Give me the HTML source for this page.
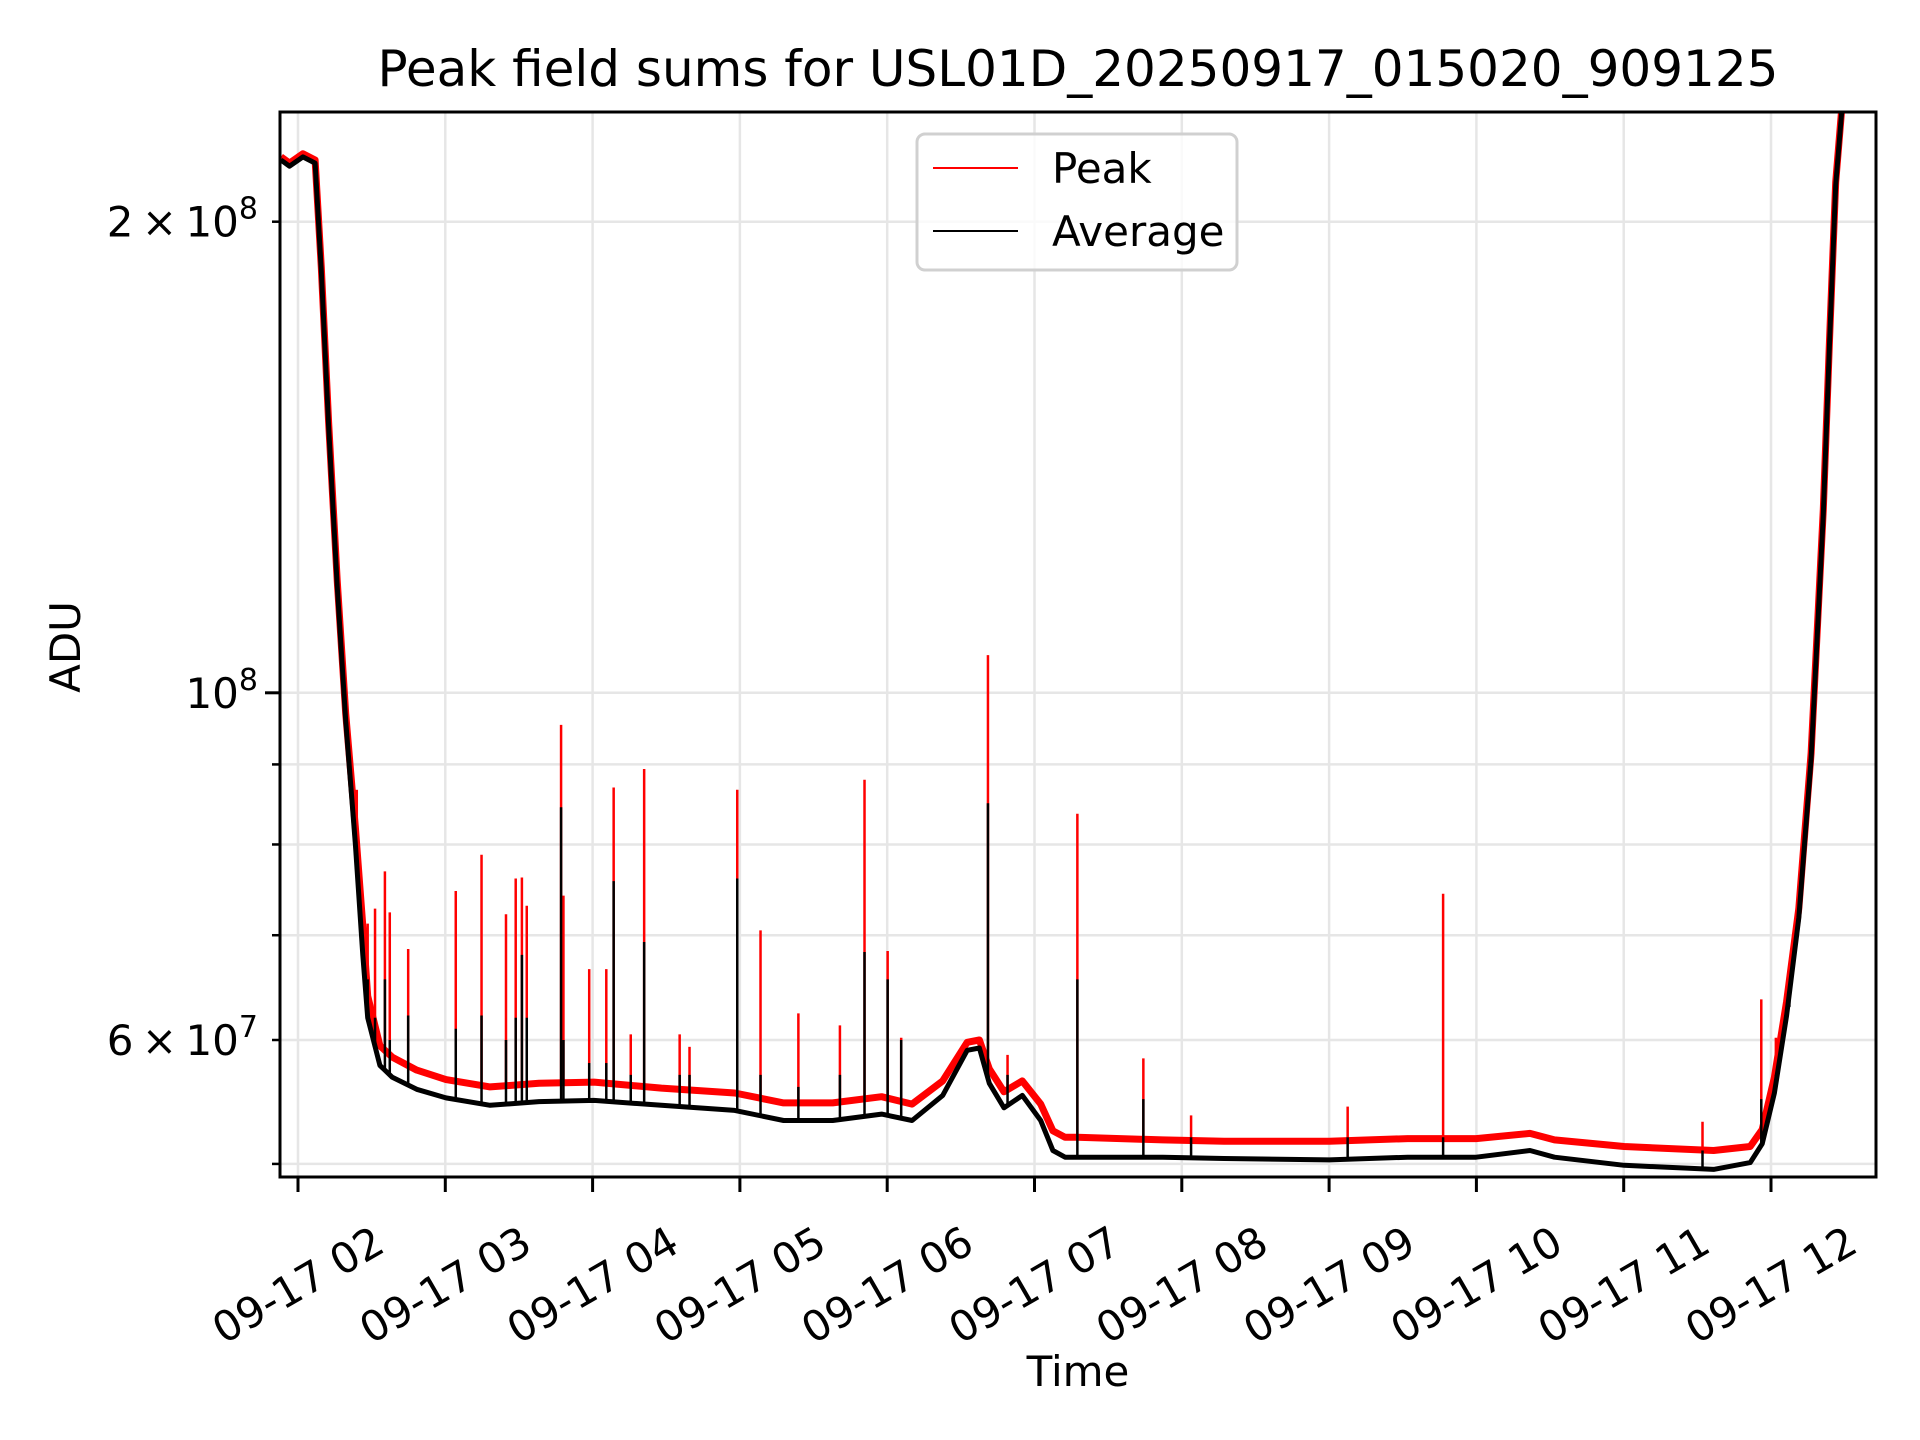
<!DOCTYPE html>
<html><head><meta charset="utf-8"><style>
html,body{margin:0;padding:0;background:#fff;}
svg{display:block;font-family:"DejaVu Sans","Liberation Sans",sans-serif;}
</style></head><body>
<svg id="chart" width="1920" height="1440" viewBox="0 0 1920 1440" xmlns="http://www.w3.org/2000/svg">
<defs><clipPath id="plotclip"><rect x="280" y="112" width="1596" height="1065"/></clipPath></defs>
<rect x="0" y="0" width="1920" height="1440" fill="#fff"/>
<g id="grid"></g>
<g id="series" clip-path="url(#plotclip)"></g>
<rect x="280" y="112" width="1596" height="1065" fill="none" stroke="#000" stroke-width="3"/>
<g id="axes"></g>
<text x="1078" y="86" font-size="50" text-anchor="middle">Peak field sums for USL01D_20250917_015020_909125</text>
<text x="1078" y="1386" font-size="42" text-anchor="middle">Time</text>
<text x="0" y="0" font-size="42" text-anchor="middle" transform="translate(80,647) rotate(-90)">ADU</text>
<g>
<rect x="917" y="134" width="320" height="136" rx="8" fill="#fff" fill-opacity="0.8" stroke="#d0d0d0" stroke-width="3"/>
<line x1="933" y1="168" x2="1018" y2="168" stroke="#ff0000" stroke-width="2"/>
<text x="1052" y="183" font-size="42">Peak</text>
<line x1="933" y1="231" x2="1018" y2="231" stroke="#000" stroke-width="2"/>
<text x="1052" y="246" font-size="42">Average</text>
</g>
</svg>
<script>
// times in hours (09-17), values in millions of ADU
const baseTimes = [1.884,1.942,2.033,2.116,2.158,2.208,2.266,2.324,2.390,2.440,2.473,2.556,2.640,2.806,3.005,3.304,3.636,4.010,4.467,4.965,5.297,5.630,5.962,6.169,6.377,6.543,6.626,6.693,6.793,6.917,7.042,7.125,7.208,7.291,7.872,8.287,9.002,9.533,9.998,10.364,10.530,11.003,11.610,11.859,11.940,12.023,12.106,12.189,12.272,12.355,12.397,12.439,12.480,12.55];
const avgValues = [219,217,220,218,186,148,117,96,80,68,62,57.8,56.8,55.8,55.1,54.5,54.8,54.9,54.5,54.1,53.3,53.3,53.8,53.3,55.3,59.1,59.3,56.3,54.3,55.3,53.3,51.0,50.5,50.5,50.5,50.4,50.3,50.5,50.5,51.0,50.5,49.9,49.6,50.1,51.5,55.5,62.2,71.8,90.7,130,167,211,235,250];
const peakValues = [220,218,221,219,187,149,118,97,82,71,64,59.5,58.5,57.4,56.6,56.0,56.3,56.4,55.9,55.5,54.7,54.7,55.2,54.6,56.5,59.8,60.0,57.5,55.6,56.5,54.6,52.5,52.0,52.0,51.8,51.7,51.7,51.9,51.9,52.3,51.8,51.3,51.0,51.3,52.6,56.8,63.5,72.8,91.5,131,168,212,236,251];
const spikeTimes = [2.399,2.473,2.523,2.590,2.623,2.748,3.071,3.246,3.412,3.478,3.520,3.553,3.786,3.802,3.977,4.093,4.143,4.259,4.350,4.591,4.658,4.982,5.140,5.397,5.679,5.846,6.003,6.095,6.684,6.817,7.291,7.739,8.063,9.126,9.774,11.535,11.934,12.033,12.125];
const spikePeak = [86.7,71.2,72.8,76.9,72.4,68.6,74.7,78.8,72.2,76.1,76.2,73.1,95.4,74.2,66.6,66.6,87.0,60.5,89.4,60.5,59.4,86.7,70.5,62.4,61.3,88.0,68.4,60.2,105.7,58.7,83.7,58.4,53.7,54.4,74.4,53.2,63.7,60.2,66.6];
const spikeAvg = [75.8,65.6,62,65.6,60,62.2,61.0,62.2,60,62,68.0,62,84.5,60,58,58,75.8,57,69.3,57,57,76.1,57,56,57,68.3,65.6,60,85.0,57,65.6,55,52,52,52,51,55,57,63];
const yMajorTicks = [1e8];
const yMinorTicks = [5e7,6e7,7e7,8e7,9e7,2e8];
const xTickHours = [2,3,4,5,6,7,8,9,10,11,12];
const xTickLabels = ["09-17 02","09-17 03","09-17 04","09-17 05","09-17 06","09-17 07","09-17 08","09-17 09","09-17 10","09-17 11","09-17 12"];

const NS="http://www.w3.org/2000/svg";
function xs(t){return 298+(t-2)*147.3;}
function ys(vM){return 1040-Math.log10(vM*1e6/6e7)*1565;}
function mk(tag,attrs,parent){const e=document.createElementNS(NS,tag);for(const k in attrs)e.setAttribute(k,attrs[k]);parent.appendChild(e);return e;}
function interp(t,arr){for(let i=0;i<baseTimes.length-1;i++){if(t>=baseTimes[i]&&t<=baseTimes[i+1]){const f=(t-baseTimes[i])/(baseTimes[i+1]-baseTimes[i]);return arr[i]+f*(arr[i+1]-arr[i]);}}return arr[arr.length-1];}

const grid=document.getElementById('grid'),axes=document.getElementById('axes'),series=document.getElementById('series');
xTickHours.forEach((h,i)=>{
  const x=xs(h);
  const g=mk('line',{x1:x,y1:112,x2:x,y2:1177,stroke:'#e6e6e6','stroke-width':2.5},grid);
  
  
  const t=mk('line',{x1:x,y1:1177,x2:x,y2:1192,stroke:'#000','stroke-width':3},axes);
  
  
  const l=mk('text',{x:0,y:0,'font-size':42,'text-anchor':'middle','dominant-baseline':'central',transform:`translate(${x},${1285}) rotate(-30)`},axes);
  l.textContent=xTickLabels[i];
  
  
});
yMajorTicks.concat(yMinorTicks).forEach(v=>{
  const y=ys(v/1e6);
  const g=mk('line',{x1:280,y1:y,x2:1876,y2:y,stroke:'#e6e6e6','stroke-width':2.5},grid);
  
  
  const major=yMajorTicks.includes(v);
  const t=mk('line',{x1:major?265:272,y1:y,x2:280,y2:y,stroke:'#000','stroke-width':major?3:2.5},axes);
  
  
});
function yLabel(v,main,exp){
  const y=ys(v/1e6);
  const tx=mk('text',{x:258,y:y+15,'font-size':42,'text-anchor':'end'},axes);
  
  
  tx.appendChild(document.createTextNode(main));
  const s=mk('tspan',{dy:-18,'font-size':30},tx);s.textContent=exp;
}
yLabel(2e8,"2\u2009\u00d7\u200910","8");
yLabel(1e8,"10","8");
yLabel(6e7,"6\u2009\u00d7\u200910","7");

function path(times,vals){return times.map((t,i)=>(i?'L':'M')+xs(t).toFixed(1)+' '+ys(vals[i]).toFixed(1)).join(' ');}
const pk=mk('path',{d:path(baseTimes,peakValues),fill:'none',stroke:'#ff0000','stroke-width':7,'stroke-linejoin':'round'},series);


spikeTimes.forEach((t,i)=>{
  const x=xs(t);
  const s=mk('line',{x1:x,y1:ys(interp(t,peakValues)),x2:x,y2:ys(spikePeak[i]),stroke:'#ff0000','stroke-width':2.5},series);
  
  
});
const av=mk('path',{d:path(baseTimes,avgValues),fill:'none',stroke:'#000','stroke-width':5,'stroke-linejoin':'round'},series);


spikeTimes.forEach((t,i)=>{
  const x=xs(t);
  const s=mk('line',{x1:x,y1:ys(interp(t,avgValues)),x2:x,y2:ys(spikeAvg[i]),stroke:'#000','stroke-width':2.5},series);
  
  
});
</script>
</body></html>
